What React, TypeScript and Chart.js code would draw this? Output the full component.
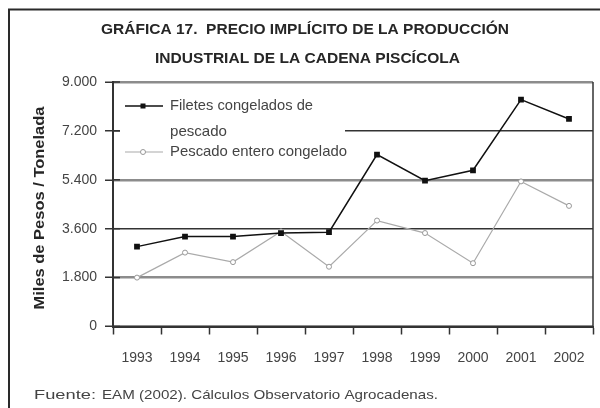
import React, { useEffect, useRef } from "react";
import { Chart, registerables } from "chart.js";

Chart.register(...registerables);

const years = ["1993", "1994", "1995", "1996", "1997", "1998", "1999", "2000", "2001", "2002"];
const filetes = [2940, 3310, 3310, 3440, 3470, 6330, 5370, 5750, 8350, 7640];
const entero = [1800, 2720, 2370, 3500, 2200, 3900, 3440, 2330, 5340, 4440];
const seriesNames = ["Filetes congelados de", "pescado", "Pescado entero congelado"];
const titleLines = ["GRÁFICA 17.  PRECIO IMPLÍCITO DE LA PRODUCCIÓN", "INDUSTRIAL DE LA CADENA PISCÍCOLA"];
const yTitle = "Miles de Pesos / Tonelada";
const sourceA = "Fuente:";
const sourceB = "EAM (2002). Cálculos Observatorio Agrocadenas.";
const yMin = 0;
const yMax = 9000;
const yStep = 1800;

const fmt = (v: number) =>
  v >= 1000 ? `${Math.floor(v / 1000)}.${String(v % 1000).padStart(3, "0")}` : String(v);

function drawFitted(ctx: CanvasRenderingContext2D, text: string, x: number, y: number, width: number) {
  const w = ctx.measureText(text).width;
  const s = width / w;
  ctx.save();
  ctx.translate(x, y);
  ctx.scale(s, 1);
  ctx.textAlign = "left";
  ctx.textBaseline = "middle";
  ctx.fillText(text, 0, 0);
  ctx.restore();
}

const decor = {
  id: "decor",
  beforeDraw(chart: any) {
    const ctx = chart.ctx as CanvasRenderingContext2D;
    ctx.save();
    ctx.fillStyle = "#fff";
    ctx.fillRect(0, 0, chart.width, chart.height);
    ctx.strokeStyle = "#2a2a2a";
    ctx.lineWidth = 2;
    ctx.beginPath();
    ctx.moveTo(9, 408);
    ctx.lineTo(9, 9.5);
    ctx.lineTo(600, 9.5);
    ctx.stroke();
    ctx.restore();
  },
  beforeDatasetsDraw(chart: any) {
    const ctx = chart.ctx as CanvasRenderingContext2D;
    const a = chart.chartArea;
    ctx.save();
    ctx.strokeStyle = "#333";
    ctx.lineWidth = 1.5;
    ctx.beginPath();
    ctx.moveTo(a.right, a.top);
    ctx.lineTo(a.right, a.bottom);
    ctx.stroke();
    ctx.fillStyle = "#fff";
    ctx.fillRect(a.left + 7, 92, 345 - (a.left + 7), 70);
    const ys = chart.scales.y;
    ctx.strokeStyle = "#333";
    ctx.lineWidth = 1.5;
    for (let v = yMin; v <= yMax; v += yStep) {
      const py = ys.getPixelForValue(v);
      ctx.beginPath();
      ctx.moveTo(a.left, py);
      ctx.lineTo(a.left + 7, py);
      ctx.stroke();
    }
    ctx.strokeStyle = "#111";
    ctx.lineWidth = 1.5;
    ctx.beginPath();
    ctx.moveTo(125, 106);
    ctx.lineTo(163, 106);
    ctx.stroke();
    ctx.fillStyle = "#111";
    ctx.fillRect(140.5, 103.5, 5, 5);
    ctx.strokeStyle = "#aaa";
    ctx.lineWidth = 1.2;
    ctx.beginPath();
    ctx.moveTo(125, 152);
    ctx.lineTo(163, 152);
    ctx.stroke();
    ctx.fillStyle = "#fff";
    ctx.strokeStyle = "#999";
    ctx.lineWidth = 1;
    ctx.beginPath();
    ctx.arc(143, 152, 2.5, 0, Math.PI * 2);
    ctx.fill();
    ctx.stroke();
    ctx.fillStyle = "#444";
    ctx.font = "15px 'Liberation Sans', Arial, sans-serif";
    drawFitted(ctx, seriesNames[0], 170, 106, 143);
    drawFitted(ctx, seriesNames[1], 170, 132, 57);
    drawFitted(ctx, seriesNames[2], 170, 152, 177);
    ctx.restore();
  },
  afterDraw(chart: any) {
    const ctx = chart.ctx as CanvasRenderingContext2D;
    ctx.save();
    ctx.fillStyle = "#262626";
    ctx.font = "bold 15px 'Liberation Sans', Arial, sans-serif";
    drawFitted(ctx, titleLines[0], 101, 30, 408);
    drawFitted(ctx, titleLines[1], 155, 59, 305);
    ctx.save();
    ctx.translate(40, 208);
    ctx.rotate(-Math.PI / 2);
    ctx.font = "bold 14px 'Liberation Sans', Arial, sans-serif";
    drawFitted(ctx, yTitle, -101.5, 0, 203);
    ctx.restore();
    ctx.fillStyle = "#444";
    ctx.font = "13px 'Liberation Sans', Arial, sans-serif";
    drawFitted(ctx, sourceA, 34, 395, 62);
    drawFitted(ctx, sourceB, 102, 395, 336);
    ctx.restore();
  },
};

export default function App() {
  const ref = useRef<HTMLCanvasElement | null>(null);
  useEffect(() => {
    if (!ref.current) return;
    const chart = new Chart(ref.current, {
      type: "line",
      data: {
        labels: years,
        datasets: [
          {
            label: seriesNames[0] + " " + seriesNames[1],
            data: filetes,
            borderColor: "#111",
            borderWidth: 1.5,
            pointStyle: "rect",
            pointRadius: 3,
            pointBackgroundColor: "#111",
            pointBorderColor: "#111",
            tension: 0,
          },
          {
            label: seriesNames[2],
            data: entero,
            borderColor: "#aaa",
            borderWidth: 1.2,
            pointStyle: "circle",
            pointRadius: 2.5,
            pointBackgroundColor: "#fff",
            pointBorderColor: "#999",
            pointBorderWidth: 1,
            tension: 0,
          },
        ],
      },
      options: {
        responsive: false,
        animation: false,
        devicePixelRatio: 1,
        layout: { padding: { top: 82, right: 7, left: 0, bottom: 0 } },
        plugins: {
          legend: { display: false },
          title: { display: false },
          tooltip: { enabled: false },
        },
        scales: {
          x: {
            type: "category",
            offset: true,
            afterFit: (s: any) => {
              s.height = 408 - 326.5;
            },
            grid: {
              offset: true,
              drawOnChartArea: false,
              drawTicks: true,
              tickLength: 8,
              tickColor: "#333",
              tickWidth: 1.5,
            },
            border: { display: true, color: "#333", width: 2 },
            ticks: {
              color: "#444",
              padding: 15,
              maxRotation: 0,
              autoSkip: false,
              font: { family: "'Liberation Sans', Arial, sans-serif", size: 14 },
            },
          },
          y: {
            min: yMin,
            max: yMax,
            afterFit: (s: any) => {
              s.width = 113;
            },
            ticks: {
              stepSize: yStep,
              color: "#444",
              padding: 8,
              font: { family: "'Liberation Sans', Arial, sans-serif", size: 14 },
              callback: (v: any) => fmt(Number(v)),
            },
            grid: {
              color: (c: any) =>
                c.tick && (c.tick.value === 3600 || c.tick.value === 7200) ? "#333" : "#8c8c8c",
              lineWidth: (c: any) =>
                c.tick && (c.tick.value === 3600 || c.tick.value === 7200) ? 1.5 : 2.5,
              drawTicks: true,
              tickLength: 8,
              tickColor: "#333",
              tickWidth: 1.5,
            },
            border: { display: true, color: "#333", width: 2 },
          },
        },
      },
      plugins: [decor],
    } as any);
    return () => chart.destroy();
  }, []);
  return (
    <div style={{ position: "absolute", left: 0, top: 0, width: 600, height: 408, background: "#fff" }}>
      <canvas ref={ref} width={600} height={408} style={{ display: "block", width: 600, height: 408 }} />
    </div>
  );
}
